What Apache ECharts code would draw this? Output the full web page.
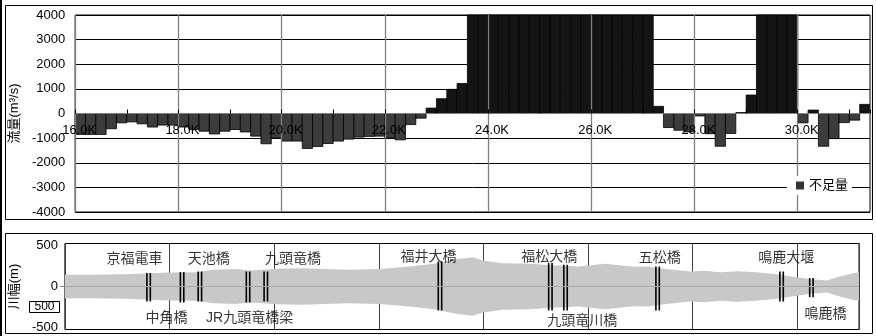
<!DOCTYPE html>
<html><head><meta charset="utf-8">
<script src="https://cdn.jsdelivr.net/npm/echarts@6/dist/echarts.min.js"></script>
<style>html,body{margin:0;padding:0;background:#fff}#c{width:876px;height:336px}</style>
</head><body><div id="c"></div>
<script>
// ---- top panel: shortage per 0.2 km section (m3/s); sections start at these km ----
const sectionKm = [16.0,16.2,16.4,16.6,16.8,17.0,17.2,17.4,17.6,17.8,
  18.0,18.2,18.4,18.6,18.8,19.0,19.2,19.4,19.6,19.8,
  20.0,20.2,20.4,20.6,20.8,21.0,21.2,21.4,21.6,21.8,
  22.0,22.2,22.4,22.6,22.8,23.0,23.2,23.4,23.6,23.8,
  24.0,24.2,24.4,24.6,24.8,25.0,25.2,25.4,25.6,25.8,
  26.0,26.2,26.4,26.6,26.8,27.0,27.2,27.4,27.6,27.8,
  28.0,28.2,28.4,28.6,28.8,29.0,29.2,29.4,29.6,29.8,
  30.0,30.2,30.4,30.6,30.8,31.0,31.2];
const sectionLength = 0.2;
const shortage = [-850,-850,-850,-620,-380,-340,-420,-550,-470,-470,
  -550,-650,-720,-830,-720,-650,-750,-920,-1230,-1000,
  -1120,-1120,-1420,-1340,-1220,-1120,-1040,-960,-930,-920,
  -1000,-1070,-450,-190,220,600,980,1220,4000,4000,
  4000,4000,4000,4000,4000,4000,4000,4000,4000,4000,
  4000,4000,4000,4000,4000,4000,290,-570,-680,-750,
  -100,-820,-1330,-810,40,750,4000,4000,4000,4000,
  -380,140,-1330,-1020,-370,-270,370];

// ---- bottom panel: river width profile (m) ----
const widthKm = [16.00,16.48,17.12,17.62,18.00,18.52,18.84,19.28,19.53,19.79,20.04,20.56,20.94,21.43,22.01,
  22.64,23.09,23.47,23.80,23.99,24.37,24.87,25.32,25.82,26.33,26.87,27.13,27.38,27.63,27.95,
  28.20,28.53,28.85,29.16,29.61,29.99,30.24,30.57,30.76,31.06,31.18];
const riverWidth = [284,284,300,324,340,348,406,422,388,406,430,446,422,406,422,
  490,560,660,712,632,566,550,516,486,550,480,486,446,406,364,
  380,348,370,352,300,226,180,146,226,324,348];

// bridges (double lines)
const bridgeKm = [17.60,18.24,18.58,19.50,19.84,23.17,25.28,25.57,27.33,29.70,30.27];
const bridgeTop = [163,175,182,182,182,303,284,263,243,182,102];
const bridgeBottom = [-182,-194,-182,-194,-182,-291,-291,-291,-291,-182,-129];

// bridge labels
const labelNames = ['京福電車','中角橋','天池橋','JR九頭竜橋梁','九頭竜橋','福井大橋','福松大橋','九頭竜川橋','五松橋','鳴鹿大堰','鳴鹿橋'];
const labelKm = [17.33,17.94,18.75,19.53,20.36,22.95,25.26,25.89,27.37,29.79,30.54];
const labelVal = [336,-380,336,-380,336,357,357,-425,340,340,-332];

const NUM = '"Liberation Sans", "Noto Sans CJK JP", sans-serif';
const CJK = '"Liberation Sans", "Noto Sans CJK JP", sans-serif';

const chart = echarts.init(document.getElementById('c'), null, {renderer: 'canvas'});

const topGridHeight = 197;
const barData = sectionKm.map((k, i) => [k, shortage[i]]);
const upper = widthKm.map((k, i) => [k, riverWidth[i] / 2]);
const lower = widthKm.map((k, i) => [k, -riverWidth[i] / 2]);
const bridges = bridgeKm.map((k, i) => [k, bridgeTop[i], bridgeBottom[i]]);
const labels = labelKm.map((k, i) => ({value: [k, labelVal[i]], name: labelNames[i]}));

const option = {
  animation: false,
  backgroundColor: '#fff',
  textStyle: {fontFamily: NUM, color: '#000'},
  grid: [
    {left: 63, right: 6, top: 15, height: topGridHeight, show: true, borderColor: '#000', borderWidth: 1, backgroundColor: 'transparent'},
    {left: 63, right: 17, top: 243.5, height: 86, show: true, borderColor: '#000', borderWidth: 1, backgroundColor: 'transparent'}
  ],
  legend: {
    data: [{name: '不足量', itemStyle: {color: '#333'}}],
    left: 787, top: 176, z: 10,
    icon: 'rect', itemWidth: 8, itemHeight: 8,
    backgroundColor: '#fff', padding: [3, 4, 3, 9],
    selectedMode: false,
    textStyle: {fontFamily: CJK, fontSize: 13, color: '#000'}
  },
  xAxis: [
    {type: 'value', gridIndex: 0, min: 16, max: 31.4, interval: 2, z: 5,
      offset: -topGridHeight / 2,
      axisLine: {show: true, onZero: false, lineStyle: {color: '#808080', width: 1}},
      axisTick: {show: true, inside: true, length: 4, lineStyle: {color: '#000'}},
      minorTick: {show: true, splitNumber: 2, length: 4, lineStyle: {color: '#000'}},
      axisLabel: {show: true, margin: 10, fontSize: 13, fontFamily: NUM, color: '#000',
        padding: [0, 0, 0, 8],
        showMaxLabel: false, formatter: v => v.toFixed(1) + 'K'},
      splitLine: {show: true, lineStyle: {color: '#808080', width: 1.3}}
    },
    {type: 'value', gridIndex: 1, min: 16, max: 31.18, interval: 2,
      axisLine: {show: false}, axisTick: {show: false}, axisLabel: {show: false},
      splitLine: {show: true, lineStyle: {color: '#404040', width: 1}}
    }
  ],
  yAxis: [
    {type: 'value', gridIndex: 0, min: -4000, max: 4000, interval: 1000,
      name: '流量(m³/s)', nameLocation: 'middle', nameGap: 36,
      nameTextStyle: {fontFamily: CJK, fontSize: 13, color: '#000'},
      axisLine: {show: false}, axisTick: {show: false},
      axisLabel: {margin: 10, fontSize: 13, fontFamily: NUM, color: '#000',
        formatter: v => String(v)},
      splitLine: {show: true, lineStyle: {color: '#000', width: 1}}
    },
    {type: 'value', gridIndex: 1, min: -522, max: 522,
      name: '川幅(m)', nameLocation: 'middle', nameGap: 39,
      nameTextStyle: {fontFamily: CJK, fontSize: 13, color: '#000'},
      axisLine: {show: false},
      axisTick: {show: true, customValues: [0], length: 5, lineStyle: {color: '#888'}},
      axisLabel: {margin: 7, fontSize: 13, fontFamily: NUM, color: '#000', customValues: [-500, 0, 500],
        formatter: v => String(v)},
      splitLine: {show: false}
    }
  ],
  series: [
    {
      name: '不足量', type: 'custom', xAxisIndex: 0, yAxisIndex: 0, data: barData,
      itemStyle: {color: '#333'},
      renderItem: (params, api) => {
        const k = api.value(0), v = api.value(1);
        const p0 = api.coord([k, 0]);
        const p1 = api.coord([k + sectionLength, v]);
        return {
          type: 'rect',
          shape: {x: p0[0], y: Math.min(p0[1], p1[1]), width: p1[0] - p0[0], height: Math.abs(p1[1] - p0[1])},
          style: {fill: v >= 0 ? '#141414' : '#3c3c3c', stroke: '#000', lineWidth: 0.8}
        };
      }
    },
    {
      type: 'line', xAxisIndex: 1, yAxisIndex: 1, data: upper,
      symbol: 'none', lineStyle: {width: 0}, silent: true,
      areaStyle: {color: '#c8c8c8', opacity: 1}
    },
    {
      type: 'line', xAxisIndex: 1, yAxisIndex: 1, data: lower,
      symbol: 'none', lineStyle: {width: 0}, silent: true,
      areaStyle: {color: '#c8c8c8', opacity: 1},
      markLine: {silent: true, symbol: 'none', label: {show: false},
        lineStyle: {color: '#a8a8a8', width: 1, type: 'solid'},
        data: [{yAxis: 0}]}
    },
    {
      type: 'custom', xAxisIndex: 1, yAxisIndex: 1, data: bridges, z: 4,
      renderItem: (params, api) => {
        const top = api.coord([api.value(0), api.value(1)]);
        const bot = api.coord([api.value(0), api.value(2)]);
        const x = top[0];
        const st = {stroke: '#000', lineWidth: 1.6};
        return {type: 'group', children: [
          {type: 'line', shape: {x1: x - 1.7, y1: top[1], x2: x - 1.7, y2: bot[1]}, style: st},
          {type: 'line', shape: {x1: x + 1.7, y1: top[1], x2: x + 1.7, y2: bot[1]}, style: st}
        ]};
      }
    },
    {
      type: 'scatter', xAxisIndex: 1, yAxisIndex: 1, data: labels, z: 6,
      symbolSize: 1, itemStyle: {color: 'rgba(0,0,0,0)'}, silent: true,
      label: {show: true, position: 'inside', formatter: p => p.name,
        fontFamily: CJK, fontSize: 14, color: '#000'}
    }
  ],
  graphic: [
    {type: 'rect', shape: {x: 0, y: 0, width: 2, height: 336}, style: {fill: '#000'}, z: 100},
    {type: 'rect', shape: {x: 5.5, y: 5.5, width: 867, height: 214}, style: {fill: 'none', stroke: '#000', lineWidth: 1}, z: 100},
    {type: 'rect', shape: {x: 5.5, y: 233.5, width: 867, height: 100}, style: {fill: 'none', stroke: '#000', lineWidth: 1}, z: 100},
    {type: 'rect', shape: {x: 29.5, y: 301.5, width: 30, height: 11}, style: {fill: '#fff', stroke: '#000', lineWidth: 1}, z: 100},
    {type: 'text', x: 44.5, y: 307, style: {text: '500', font: '12px "Liberation Sans"', fill: '#000', align: 'center', verticalAlign: 'middle'}, z: 101}
  ]
};
chart.setOption(option);
</script>
</body></html>
